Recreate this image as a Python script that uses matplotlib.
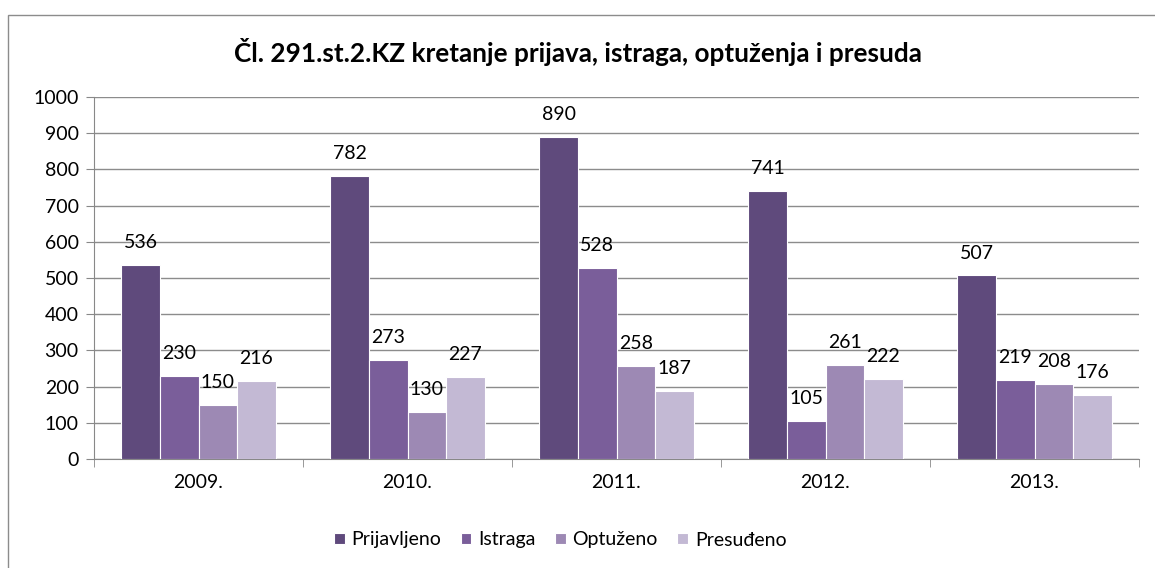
import numpy as np
import matplotlib.pyplot as plt
from matplotlib.patches import Rectangle

# podaci sa grafikona
godine = ['2009.', '2010.', '2011.', '2012.', '2013.']
prijavljeno = [536, 782, 890, 741, 507]
istraga = [230, 273, 528, 105, 219]
optuzeno = [150, 130, 258, 261, 208]
presudeno = [216, 227, 187, 222, 176]

serije = ['Prijavljeno', 'Istraga', 'Optuženo', 'Presuđeno']
boje = ['#5f4a7c', '#7a5e9a', '#9d89b4', '#c3b9d4']

plt.rcParams['font.family'] = ['Lato', 'DejaVu Sans']

W, H = 1155, 568
fig = plt.figure(figsize=(W / 100, H / 100), dpi=100)
ax = fig.add_axes([94 / W, 1 - 459 / H, 1045 / W, 362 / H])

# okvir oko cijelog grafikona (desna i donja ivica su van slike)
fig.patches.append(Rectangle((8 / W, -0.05), 1.2, 1 - 15 / H + 0.05, transform=fig.transFigure,
                             fill=False, edgecolor='#8c8c8c', linewidth=1.0))

x = np.arange(len(godine))
sirina = 0.185
podaci = [prijavljeno, istraga, optuzeno, presudeno]
for i, (vrijednosti, boja, ime) in enumerate(zip(podaci, boje, serije)):
    pomak = (i - 1.5) * sirina
    bars = ax.bar(x + pomak, vrijednosti, sirina, color=boja, edgecolor='white',
                  linewidth=0.8, label=ime, zorder=3)
    for b, v in zip(bars, vrijednosti):
        ax.annotate(str(v), (b.get_x() + b.get_width() / 2, v), xytext=(0, 10),
                    textcoords='offset points', ha='center', va='bottom', fontsize=14)

ax.set_xlim(-0.5, len(godine) - 0.5)
ax.set_ylim(0, 1000)
ax.set_yticks(range(0, 1001, 100))
ax.set_xticks(x)
ax.set_xticklabels(godine)
ax.set_xticks(np.arange(-0.5, len(godine)), minor=True)
ax.tick_params(axis='x', which='major', length=0, pad=11, labelsize=14)
ax.tick_params(axis='x', which='minor', length=6, color='#888888', direction='out')
ax.tick_params(axis='y', length=6, color='#888888', labelsize=14, pad=5)
ax.yaxis.grid(True, color='#8c8c8c', linewidth=1.0, zorder=0)
for s in ['top', 'right']:
    ax.spines[s].set_visible(False)
for s in ['left', 'bottom']:
    ax.spines[s].set_color('#888888')

fig.text(0.5, 1 - 52 / H, 'Čl. 291.st.2.KZ kretanje prijava, istraga, optuženja i presuda',
         ha='center', va='center', fontsize=18.8, fontweight='bold')

fig.legend(loc='center', bbox_to_anchor=(0.485, 1 - 540 / H), ncol=4, frameon=False,
           fontsize=14, handlelength=0.55, handleheight=0.55, handletextpad=0.35, columnspacing=1.0)

fig.savefig('out.png', dpi=100)
